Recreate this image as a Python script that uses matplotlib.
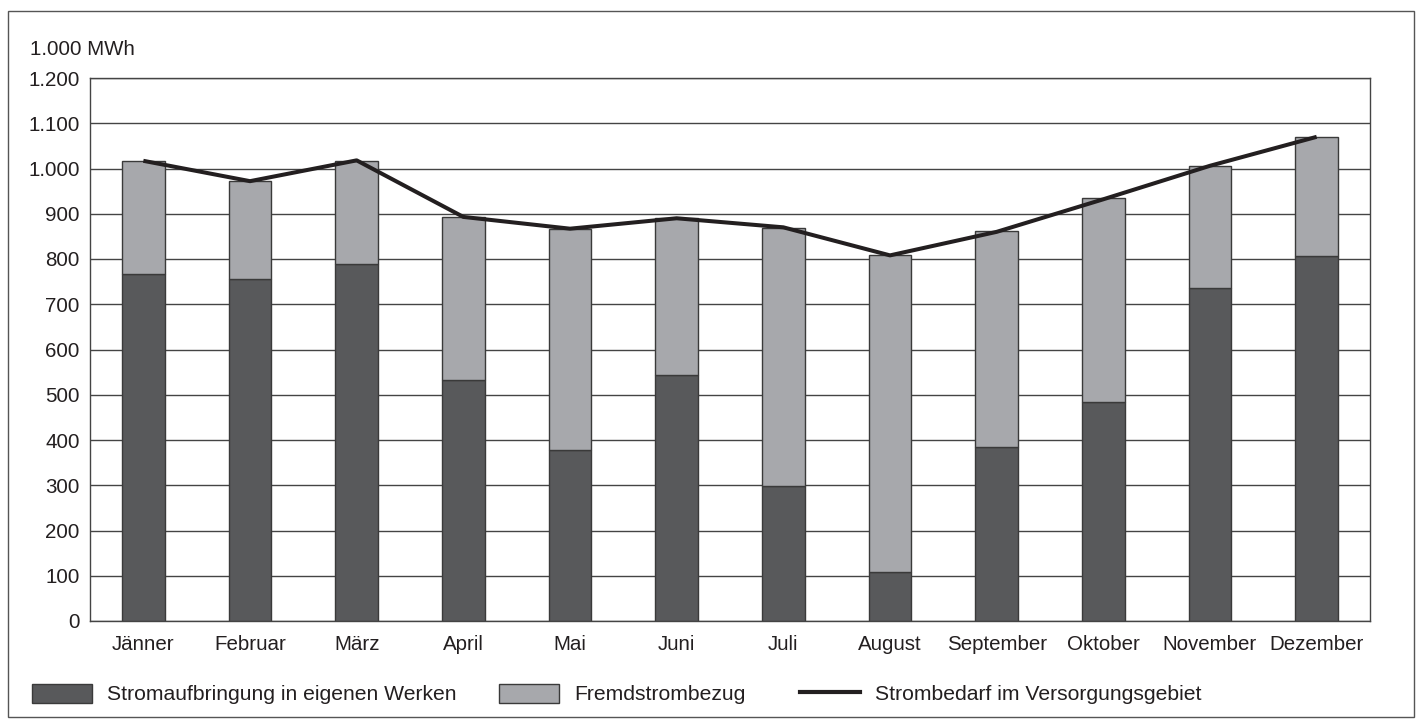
import numpy as np
import matplotlib
matplotlib.use('Agg')
import matplotlib.pyplot as plt
from matplotlib.patches import Patch, Rectangle
from matplotlib.lines import Line2D
from matplotlib.ticker import FuncFormatter

plt.rcParams['font.family'] = ['Liberation Sans', 'DejaVu Sans']

months = ['Jänner', 'Februar', 'März', 'April', 'Mai', 'Juni', 'Juli',
          'August', 'September', 'Oktober', 'November', 'Dezember']
eigen = [766, 755, 790, 533, 379, 543, 298, 108, 384, 483, 737, 807]
gesamt = [1017, 972, 1017, 893, 867, 891, 869, 809, 862, 934, 1006, 1070]
fremd = [g - e for g, e in zip(gesamt, eigen)]
bedarf = [1017, 972, 1018, 893, 867, 890, 870, 808, 860, 932, 1006, 1070]

dark = '#58595b'
light = '#a7a8ac'
edge = '#3a3a3a'
ink = '#231f20'

W, H = 1416, 720
fig = plt.figure(figsize=(W / 100, H / 100), dpi=100)
ax = fig.add_axes([90 / W, (H - 621) / H, 1280 / W, 543 / H])

x = np.arange(len(months))
ax.bar(x, eigen, width=0.4, color=dark, edgecolor=edge, linewidth=1, zorder=3)
ax.bar(x, fremd, bottom=eigen, width=0.4, color=light, edgecolor=edge,
       linewidth=1, zorder=3)
ax.plot(x, bedarf, color=ink, linewidth=2.9, zorder=4, solid_capstyle='butt')

ax.set_xlim(-0.5, len(months) - 0.5)
ax.set_ylim(0, 1200)
ax.set_yticks(np.arange(0, 1201, 100))
ax.yaxis.set_major_formatter(FuncFormatter(
    lambda v, p: '{:,.0f}'.format(v).replace(',', '.')))
ax.set_xticks(x)
ax.set_xticklabels(months)
ax.tick_params(axis='both', length=0, labelsize=14.8, colors=ink)
ax.tick_params(axis='x', pad=10)
ax.tick_params(axis='y', pad=7.5)
ax.grid(axis='y', color='#444444', linewidth=1, zorder=0)
ax.set_axisbelow(True)
for s in ax.spines.values():
    s.set_color('#444444')
    s.set_linewidth(1)

fig.text(30 / W, 1 - 49.5 / H, '1.000 MWh', fontsize=14.8, color=ink,
         va='center', ha='left')

# outer frame
fig.patches.append(Rectangle((8 / W, 3 / H), 1406 / W, 706 / H,
                             transform=fig.transFigure, fill=False,
                             edgecolor='#555555', linewidth=1))

ly = 1 - 694 / H
items = [
    (Patch(facecolor=dark, edgecolor=edge), 'Stromaufbringung in eigenen Werken', 32),
    (Patch(facecolor=light, edgecolor=edge), 'Fremdstrombezug', 499),
    (Line2D([], [], color=ink, linewidth=3), 'Strombedarf im Versorgungsgebiet', 800),
]
for h, lab, lx in items:
    fig.legend(handles=[h], labels=[lab], loc='center left',
               bbox_to_anchor=(lx / W, ly), frameon=False, fontsize=15.2,
               handlelength=2.85, handleheight=1.05, handletextpad=0.7,
               borderpad=0, borderaxespad=0, labelcolor=ink)

fig.savefig('out.png', dpi=100)
